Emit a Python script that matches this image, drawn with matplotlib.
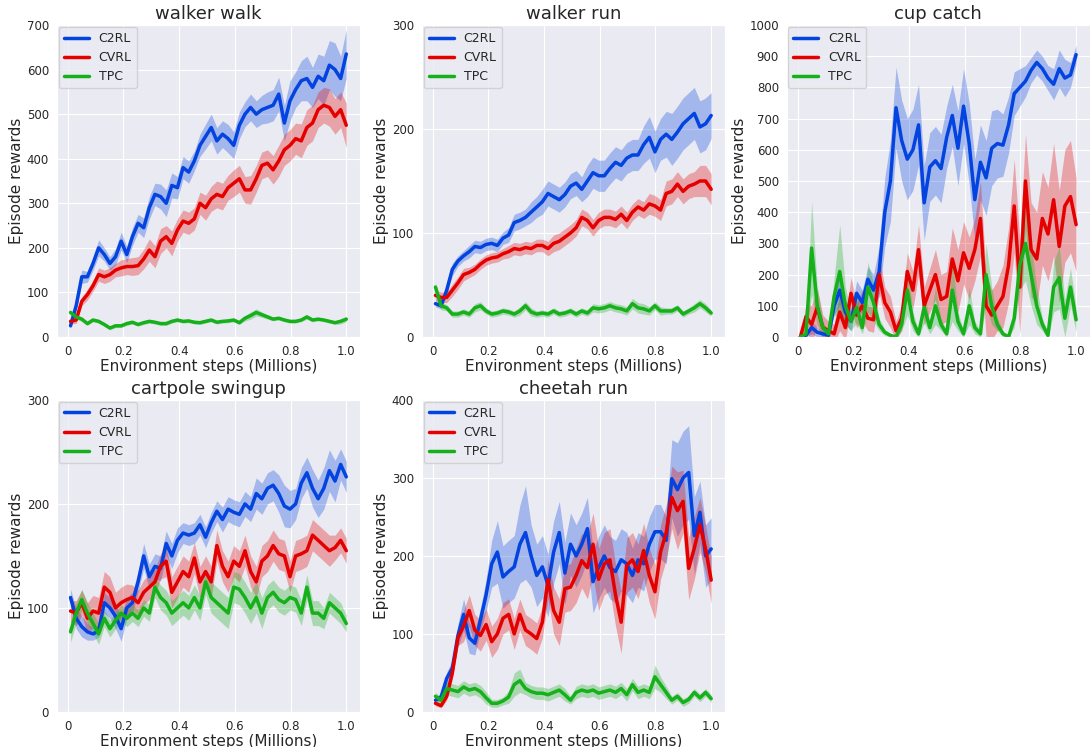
import numpy as np
import matplotlib
matplotlib.use("Agg")
import matplotlib.pyplot as plt
import seaborn as sns

# ---- data (50 evaluation points per curve) ----
tasks = ["walker walk", "walker run", "cup catch", "cartpole swingup", "cheetah run"]
y_max = [700, 300, 1000, 300, 400]
methods = ["C2RL", "CVRL", "TPC"]

walker_walk_c2rl = [25, 70, 135, 135, 165, 200, 185, 165, 180, 215,
                    185, 225, 255, 245, 290, 320, 315, 300, 340, 335,
                    380, 370, 395, 430, 450, 470, 440, 455, 445, 430,
                    475, 500, 515, 500, 510, 515, 520, 545, 480, 530,
                    555, 575, 580, 560, 585, 575, 610, 600, 580, 635]
walker_walk_c2rl_sd = [5, 10, 15, 12, 15, 18, 15, 15, 18, 20,
                       18, 20, 20, 22, 25, 25, 28, 30, 28, 25,
                       25, 25, 22, 25, 28, 30, 30, 30, 32, 30,
                       30, 28, 30, 30, 32, 35, 35, 38, 40, 45,
                       40, 45, 50, 45, 50, 55, 55, 60, 50, 55]
walker_walk_cvrl = [35, 38, 80, 95, 115, 140, 135, 140, 150, 155,
                    158, 158, 160, 175, 195, 180, 215, 225, 210, 240,
                    260, 255, 265, 300, 290, 310, 320, 315, 335, 345,
                    355, 330, 330, 355, 385, 390, 375, 395, 420, 430,
                    445, 440, 470, 480, 510, 520, 515, 495, 510, 475]
walker_walk_cvrl_sd = [5, 8, 10, 12, 12, 15, 15, 15, 15, 18,
                       18, 20, 20, 22, 25, 25, 28, 25, 28, 25,
                       25, 25, 25, 25, 28, 28, 30, 30, 28, 30,
                       30, 30, 32, 30, 30, 30, 32, 35, 35, 35,
                       35, 38, 40, 40, 40, 40, 42, 40, 40, 50]
walker_walk_tpc = [55, 45, 40, 30, 38, 35, 28, 20, 25, 25,
                   30, 33, 28, 32, 35, 33, 30, 30, 35, 38,
                   35, 36, 33, 32, 35, 38, 33, 35, 36, 38,
                   32, 42, 48, 55, 50, 45, 40, 42, 38, 35,
                   35, 38, 45, 38, 40, 38, 35, 32, 35, 40]
walker_walk_tpc_sd = [5, 5, 5, 4, 4, 4, 4, 4, 4, 4,
                      4, 4, 4, 4, 4, 4, 4, 4, 4, 4,
                      4, 4, 4, 4, 4, 4, 4, 4, 4, 4,
                      4, 6, 8, 8, 6, 5, 4, 4, 4, 4,
                      4, 4, 5, 4, 4, 4, 4, 4, 6, 6]

walker_run_c2rl = [32, 30, 45, 65, 73, 78, 82, 87, 86, 89,
                   90, 88, 95, 98, 110, 112, 115, 120, 125, 130,
                   138, 135, 132, 137, 145, 148, 142, 150, 158, 155,
                   155, 162, 168, 165, 172, 175, 175, 185, 192, 178,
                   190, 195, 190, 197, 205, 210, 215, 202, 205, 213]
walker_run_c2rl_sd = [3, 3, 5, 6, 5, 5, 6, 6, 6, 6,
                      6, 6, 6, 7, 8, 8, 8, 10, 10, 12,
                      12, 12, 12, 12, 12, 12, 12, 15, 15, 15,
                      15, 15, 15, 15, 15, 15, 15, 18, 20, 20,
                      20, 22, 25, 25, 25, 25, 25, 25, 25, 22]
walker_run_cvrl = [40, 38, 38, 45, 52, 60, 62, 65, 70, 74,
                   76, 77, 80, 82, 85, 84, 86, 85, 88, 88,
                   85, 90, 92, 96, 100, 105, 115, 112, 105, 112,
                   115, 115, 113, 118, 112, 120, 125, 122, 128, 126,
                   122, 138, 140, 147, 140, 145, 147, 150, 150, 142]
walker_run_cvrl_sd = [5, 5, 5, 6, 6, 6, 5, 5, 5, 5,
                      5, 5, 5, 6, 6, 6, 6, 6, 6, 6,
                      7, 8, 8, 8, 8, 8, 8, 8, 8, 8,
                      8, 8, 8, 8, 8, 8, 8, 8, 10, 10,
                      10, 12, 12, 12, 12, 12, 12, 15, 15, 15]
walker_run_tpc = [48, 30, 28, 22, 22, 24, 22, 28, 30, 25,
                  22, 23, 25, 24, 22, 25, 30, 24, 22, 23,
                  22, 25, 22, 23, 25, 22, 25, 23, 28, 27,
                  28, 30, 28, 27, 25, 32, 28, 27, 25, 30,
                  25, 25, 25, 28, 22, 25, 28, 32, 28, 23]
walker_run_tpc_sd = [4, 4, 3, 3, 3, 3, 3, 4, 4, 3,
                     3, 3, 3, 3, 3, 4, 4, 4, 3, 3,
                     3, 3, 3, 3, 3, 3, 3, 3, 4, 4,
                     4, 4, 4, 4, 4, 5, 5, 5, 4, 4,
                     4, 3, 3, 3, 3, 3, 4, 4, 4, 3]

cup_catch_c2rl = [0, 5, 30, 15, 10, 5, 100, 150, 80, 50,
                  140, 110, 185, 150, 210, 400, 500, 735, 630, 570,
                  600, 680, 430, 545, 565, 540, 640, 710, 605, 740,
                  620, 440, 560, 510, 605, 620, 615, 680, 780, 800,
                  820, 855, 880, 860, 830, 810, 860, 830, 840, 905]
cup_catch_c2rl_sd = [0, 5, 20, 15, 10, 5, 30, 50, 40, 30,
                     40, 40, 40, 50, 80, 110, 130, 130, 130, 130,
                     130, 130, 120, 110, 110, 110, 100, 100, 120, 120,
                     130, 130, 120, 120, 120, 110, 100, 90, 70, 60,
                     50, 40, 40, 40, 40, 50, 60, 60, 40, 30]
cup_catch_cvrl = [0, 65, 40, 95, 30, 20, 10, 80, 30, 140,
                  70, 100, 60, 55, 200, 110, 80, 20, 60, 210,
                  150, 280, 100, 150, 200, 120, 130, 250, 180, 270,
                  220, 280, 380, 100, 70, 100, 130, 230, 420, 160,
                  500, 280, 250, 380, 330, 440, 290, 420, 450, 360]
cup_catch_cvrl_sd = [0, 40, 60, 60, 40, 30, 30, 60, 40, 50,
                     40, 50, 40, 40, 60, 50, 50, 30, 40, 60,
                     60, 80, 60, 70, 80, 80, 80, 100, 100, 100,
                     100, 100, 120, 100, 80, 80, 100, 120, 150, 150,
                     150, 150, 150, 150, 150, 180, 180, 180, 180, 150]
cup_catch_tpc = [0, 10, 285, 100, 30, 10, 130, 210, 100, 50,
                 95, 30, 160, 110, 40, 15, 5, 0, 40, 150,
                 50, 10, 95, 30, 100, 40, 10, 150, 50, 10,
                 100, 30, 10, 200, 100, 40, 10, 0, 60, 230,
                 300, 200, 100, 40, 5, 160, 190, 60, 160, 55]
cup_catch_tpc_sd = [0, 10, 150, 60, 20, 10, 60, 150, 60, 30,
                    50, 20, 80, 60, 20, 10, 5, 0, 20, 80,
                    30, 10, 50, 20, 60, 20, 10, 100, 30, 10,
                    60, 20, 10, 100, 60, 20, 10, 0, 30, 80,
                    120, 100, 60, 20, 10, 80, 100, 60, 60, 40]

cartpole_c2rl = [110, 90, 82, 77, 75, 78, 105, 100, 92, 80,
                 100, 105, 125, 150, 130, 140, 138, 162, 150, 165,
                 172, 170, 172, 180, 168, 182, 193, 185, 195, 192,
                 190, 200, 195, 210, 205, 215, 218, 210, 198, 195,
                 200, 220, 230, 215, 205, 215, 232, 222, 238, 226]
cartpole_c2rl_sd = [8, 10, 10, 8, 6, 6, 10, 10, 12, 12,
                    10, 10, 10, 12, 12, 12, 12, 12, 12, 12,
                    10, 10, 10, 10, 10, 10, 10, 12, 12, 12,
                    12, 12, 12, 15, 15, 15, 15, 18, 20, 18,
                    15, 15, 15, 18, 18, 20, 20, 20, 15, 15]
cartpole_cvrl = [97, 95, 105, 90, 97, 95, 120, 115, 100, 105,
                 108, 110, 105, 115, 120, 125, 140, 145, 115, 125,
                 135, 130, 148, 125, 135, 125, 160, 140, 130, 145,
                 140, 155, 135, 125, 145, 150, 160, 152, 150, 130,
                 150, 152, 155, 170, 165, 160, 155, 158, 165, 155]
cartpole_cvrl_sd = [10, 12, 12, 15, 15, 15, 15, 15, 15, 15,
                    15, 12, 12, 12, 12, 12, 12, 15, 15, 15,
                    15, 15, 15, 15, 15, 15, 15, 15, 15, 15,
                    15, 15, 15, 15, 15, 15, 15, 15, 15, 15,
                    15, 15, 15, 15, 15, 15, 15, 12, 12, 12]
cartpole_tpc = [77, 95, 108, 95, 85, 75, 90, 80, 88, 95,
                90, 95, 90, 100, 95, 120, 110, 105, 95, 100,
                105, 100, 110, 100, 125, 110, 105, 100, 95, 120,
                118, 110, 100, 110, 95, 110, 115, 108, 105, 110,
                108, 95, 120, 95, 95, 90, 105, 100, 95, 85]
cartpole_tpc_sd = [10, 10, 10, 10, 10, 10, 8, 8, 8, 8,
                   8, 8, 8, 8, 8, 10, 12, 12, 12, 12,
                   12, 12, 12, 12, 12, 15, 15, 15, 15, 15,
                   15, 15, 15, 15, 15, 12, 12, 12, 12, 12,
                   12, 12, 12, 12, 12, 10, 10, 10, 10, 8]

cheetah_c2rl = [15, 19, 43, 56, 98, 125, 95, 88, 118, 150,
                190, 205, 173, 180, 186, 215, 230, 200, 175, 186,
                162, 205, 230, 178, 215, 200, 215, 235, 167, 185,
                200, 185, 180, 195, 190, 175, 195, 190, 215, 231,
                231, 220, 299, 285, 300, 307, 226, 256, 200, 209]
cheetah_c2rl_sd = [3, 5, 8, 10, 15, 20, 20, 15, 15, 20,
                   30, 40, 40, 40, 40, 50, 60, 40, 40, 40,
                   40, 40, 40, 40, 40, 40, 40, 40, 40, 40,
                   40, 40, 40, 40, 40, 35, 35, 35, 35, 35,
                   35, 30, 50, 60, 60, 60, 50, 40, 40, 40]
cheetah_cvrl = [11, 8, 20, 50, 95, 110, 130, 105, 98, 112,
                90, 100, 120, 125, 100, 125, 105, 100, 94, 115,
                170, 130, 115, 158, 160, 175, 194, 185, 215, 170,
                190, 195, 150, 115, 188, 195, 180, 207, 175, 154,
                205, 230, 275, 258, 270, 184, 210, 240, 209, 169]
cheetah_cvrl_sd = [3, 3, 5, 8, 10, 20, 20, 20, 20, 20,
                   20, 20, 20, 20, 20, 20, 20, 20, 20, 20,
                   25, 30, 30, 30, 30, 35, 35, 40, 40, 40,
                   40, 40, 40, 40, 35, 35, 35, 35, 35, 35,
                   35, 35, 40, 50, 40, 40, 40, 35, 30, 30]
cheetah_tpc = [20, 15, 30, 28, 26, 32, 28, 30, 26, 18,
               11, 11, 14, 19, 35, 40, 30, 26, 24, 24,
               22, 25, 28, 22, 15, 25, 28, 26, 28, 24,
               26, 28, 25, 30, 22, 35, 25, 28, 25, 45,
               35, 25, 15, 20, 12, 16, 25, 18, 25, 17]
cheetah_tpc_sd = [5, 5, 8, 8, 8, 8, 8, 8, 8, 8,
                  5, 5, 5, 8, 15, 15, 8, 8, 8, 8,
                  8, 8, 8, 8, 5, 8, 8, 8, 8, 8,
                  8, 8, 8, 8, 8, 8, 8, 8, 8, 15,
                  10, 8, 5, 5, 5, 5, 5, 5, 5, 5]

means = [
    [walker_walk_c2rl, walker_walk_cvrl, walker_walk_tpc],
    [walker_run_c2rl, walker_run_cvrl, walker_run_tpc],
    [cup_catch_c2rl, cup_catch_cvrl, cup_catch_tpc],
    [cartpole_c2rl, cartpole_cvrl, cartpole_tpc],
    [cheetah_c2rl, cheetah_cvrl, cheetah_tpc],
]
spreads = [
    [walker_walk_c2rl_sd, walker_walk_cvrl_sd, walker_walk_tpc_sd],
    [walker_run_c2rl_sd, walker_run_cvrl_sd, walker_run_tpc_sd],
    [cup_catch_c2rl_sd, cup_catch_cvrl_sd, cup_catch_tpc_sd],
    [cartpole_c2rl_sd, cartpole_cvrl_sd, cartpole_tpc_sd],
    [cheetah_c2rl_sd, cheetah_cvrl_sd, cheetah_tpc_sd],
]

colors = ["#0343df", "#e50000", "#15b01a"]
steps = np.linspace(0.01, 1.0, 50)

sns.set_style("darkgrid")
plt.rcParams["font.family"] = ["DejaVu Sans"]

figure, axes = plt.subplots(2, 3, figsize=(10.91, 7.47), dpi=100)
figure.subplots_adjust(left=0.052, right=0.999, top=0.9665, bottom=0.047,
                       wspace=0.203, hspace=0.202)
axes = axes.flatten()

for i, task in enumerate(tasks):
    axis = axes[i]
    for j, method in enumerate(methods):
        mean = np.array(means[i][j], dtype=float)
        sd = np.array(spreads[i][j], dtype=float)
        axis.fill_between(steps, mean - sd, mean + sd, color=colors[j], alpha=0.3, linewidth=0)
        axis.plot(steps, mean, color=colors[j], linewidth=2.5, label=method)
    axis.set_ylim(0, y_max[i])
    axis.set_yticks(range(0, y_max[i] + 1, 100))
    axis.set_xticks([0, 0.2, 0.4, 0.6, 0.8, 1.0])
    axis.set_xticklabels(["0", "0.2", "0.4", "0.6", "0.8", "1.0"])
    axis.tick_params(labelsize=8.5, pad=2)
    axis.set_title(task, fontsize=13, pad=4)
    axis.set_xlabel("Environment steps (Millions)", fontsize=11, labelpad=1)
    axis.set_ylabel("Episode rewards", fontsize=11, labelpad=2)
    axis.legend(loc="upper left", fontsize=9, borderaxespad=0.15)

axes[5].remove()

figure.savefig("out.png", dpi=100)
